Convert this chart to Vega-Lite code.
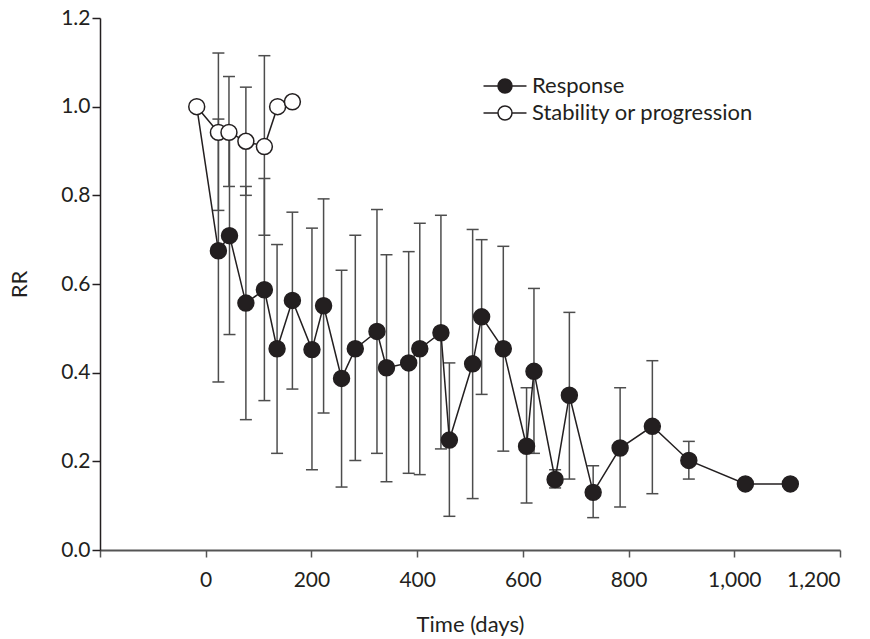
{
  "$schema": "https://vega.github.io/schema/vega-lite/v6.json",
  "width": 740,
  "height": 532,
  "autosize": {"type": "none"},
  "padding": {"left": 100, "top": 18, "right": 30, "bottom": 89},
  "background": "white",
  "config": {
    "view": {"stroke": null},
    "font": "Lato",
    "axis": {"grid": false, "labelFont": "Lato", "titleFont": "Lato", "labelColor": "#231f20", "titleColor": "#231f20", "titleFontWeight": "normal"},
    "legend": {"labelFont": "Lato"}
  },
  "data": {
    "values": [
      {"series": "Response", "t": -17, "rr": 1.0},
      {"series": "Response", "t": 24, "rr": 0.675, "lo": 0.379, "hi": 0.972},
      {"series": "Response", "t": 45, "rr": 0.709, "lo": 0.486, "hi": 0.932},
      {"series": "Response", "t": 76, "rr": 0.557, "lo": 0.294, "hi": 0.820},
      {"series": "Response", "t": 111, "rr": 0.587, "lo": 0.337, "hi": 0.838},
      {"series": "Response", "t": 135, "rr": 0.454, "lo": 0.218, "hi": 0.689},
      {"series": "Response", "t": 164, "rr": 0.563, "lo": 0.363, "hi": 0.762},
      {"series": "Response", "t": 201, "rr": 0.452, "lo": 0.181, "hi": 0.726},
      {"series": "Response", "t": 223, "rr": 0.551, "lo": 0.309, "hi": 0.792},
      {"series": "Response", "t": 257, "rr": 0.387, "lo": 0.142, "hi": 0.631},
      {"series": "Response", "t": 283, "rr": 0.454, "lo": 0.202, "hi": 0.710},
      {"series": "Response", "t": 324, "rr": 0.493, "lo": 0.218, "hi": 0.768},
      {"series": "Response", "t": 342, "rr": 0.411, "lo": 0.154, "hi": 0.666},
      {"series": "Response", "t": 384, "rr": 0.422, "lo": 0.173, "hi": 0.673},
      {"series": "Response", "t": 405, "rr": 0.454, "lo": 0.170, "hi": 0.737},
      {"series": "Response", "t": 445, "rr": 0.490, "lo": 0.228, "hi": 0.755},
      {"series": "Response", "t": 461, "rr": 0.248, "lo": 0.076, "hi": 0.422},
      {"series": "Response", "t": 505, "rr": 0.420, "lo": 0.116, "hi": 0.723},
      {"series": "Response", "t": 522, "rr": 0.526, "lo": 0.351, "hi": 0.700},
      {"series": "Response", "t": 563, "rr": 0.454, "lo": 0.223, "hi": 0.685},
      {"series": "Response", "t": 607, "rr": 0.234, "lo": 0.106, "hi": 0.366},
      {"series": "Response", "t": 621, "rr": 0.403, "lo": 0.218, "hi": 0.590},
      {"series": "Response", "t": 661, "rr": 0.159, "lo": 0.140, "hi": 0.181},
      {"series": "Response", "t": 688, "rr": 0.349, "lo": 0.160, "hi": 0.536},
      {"series": "Response", "t": 733, "rr": 0.130, "lo": 0.073, "hi": 0.190},
      {"series": "Response", "t": 784, "rr": 0.230, "lo": 0.097, "hi": 0.366},
      {"series": "Response", "t": 845, "rr": 0.279, "lo": 0.127, "hi": 0.427},
      {"series": "Response", "t": 914, "rr": 0.202, "lo": 0.160, "hi": 0.245},
      {"series": "Response", "t": 1021, "rr": 0.149},
      {"series": "Response", "t": 1106, "rr": 0.149},
      {"series": "Stability or progression", "t": -17, "rr": 1.0},
      {"series": "Stability or progression", "t": 24, "rr": 0.942, "lo": 0.766, "hi": 1.121},
      {"series": "Stability or progression", "t": 44, "rr": 0.942, "lo": 0.820, "hi": 1.068},
      {"series": "Stability or progression", "t": 76, "rr": 0.922, "lo": 0.800, "hi": 1.044},
      {"series": "Stability or progression", "t": 111, "rr": 0.910, "lo": 0.710, "hi": 1.115},
      {"series": "Stability or progression", "t": 136, "rr": 1.0},
      {"series": "Stability or progression", "t": 164, "rr": 1.011}
    ]
  },
  "encoding": {
    "x": {
      "field": "t", "type": "quantitative",
      "scale": {"domain": [-200, 1200], "nice": false, "zero": false},
      "axis": {
        "title": "Time (days)",
        "values": [-200, 0, 200, 400, 600, 800, 1000, 1200],
        "labelExpr": "datum.value < -100 ? '' : format(datum.value, ',')",
        "labelFontSize": 21, "titleFontSize": 22,
        "tickSize": 7, "tickWidth": 1.5, "tickColor": "#555555",
        "domainColor": "#555555", "domainWidth": 2,
        "labelPadding": 12, "titlePadding": 24
      }
    }
  },
  "layer": [
    {
      "transform": [{"filter": "isValid(datum.lo)"}],
      "mark": {"type": "rule", "color": "#4d4d4d", "strokeWidth": 1.5},
      "encoding": {
        "y": {"field": "lo", "type": "quantitative"},
        "y2": {"field": "hi"}
      }
    },
    {
      "transform": [{"filter": "isValid(datum.lo)"}],
      "mark": {"type": "tick", "orient": "horizontal", "color": "#4d4d4d", "size": 12, "thickness": 1.5, "opacity": 1},
      "encoding": {"y": {"field": "lo", "type": "quantitative"}}
    },
    {
      "transform": [{"filter": "isValid(datum.hi)"}],
      "mark": {"type": "tick", "orient": "horizontal", "color": "#4d4d4d", "size": 12, "thickness": 1.5, "opacity": 1},
      "encoding": {"y": {"field": "hi", "type": "quantitative"}}
    },
    {
      "mark": {"type": "line", "color": "#231f20", "strokeWidth": 1.5},
      "encoding": {
        "y": {"field": "rr", "type": "quantitative"},
        "detail": {"field": "series"},
        "order": {"field": "t"}
      }
    },
    {
      "transform": [{"filter": "datum.series == 'Stability or progression' || datum.t > 0"}],
      "mark": {"type": "point", "shape": "circle", "filled": true, "size": 254, "stroke": "#231f20", "strokeWidth": 1.5, "opacity": 1},
      "encoding": {
        "y": {
          "field": "rr", "type": "quantitative",
          "scale": {"domain": [0, 1.2], "nice": false, "zero": true},
          "axis": {
            "title": "RR",
            "values": [0, 0.2, 0.4, 0.6, 0.8, 1.0, 1.2],
            "format": ".1f",
            "labelFontSize": 21, "titleFontSize": 22,
            "tickSize": 8, "tickWidth": 1.5, "tickColor": "#231f20",
            "domainColor": "#231f20", "domainWidth": 1.5,
            "labelPadding": 2, "titlePadding": 29
          }
        },
        "fill": {
          "field": "series", "type": "nominal",
          "scale": {"domain": ["Response", "Stability or progression"], "range": ["#231f20", "#ffffff"]},
          "legend": {
            "title": null,
            "orient": "none",
            "legendX": 394,
            "legendY": 57,
            "padding": 0,
            "symbolType": "M-3.07,0L-1,0M1,0L3.07,0M-1,0A1,1,0,1,1,1,0A1,1,0,1,1,-1,0Z",
            "symbolSize": 196,
            "symbolStrokeWidth": 1.5,
            "symbolStrokeColor": "#231f20",
            "symbolOpacity": 1,
            "labelFontSize": 22,
            "labelColor": "#231f20",
            "labelOffset": 16,
            "labelLimit": 0,
            "rowPadding": 5
          }
        }
      }
    }
  ]
}
